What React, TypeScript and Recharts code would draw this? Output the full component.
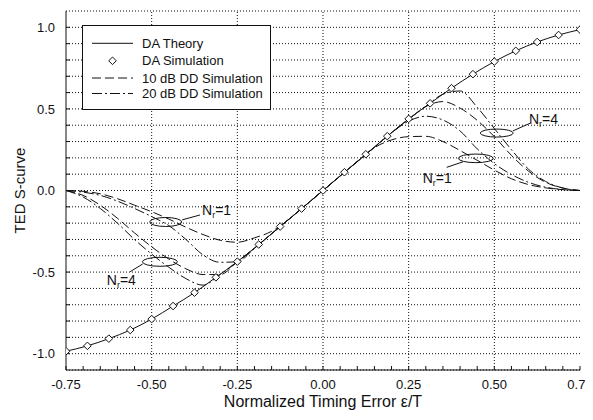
import React from "react";
import {
  ComposedChart,
  Line,
  XAxis,
  YAxis,
  CartesianGrid,
  ReferenceLine,
  ReferenceDot,
  Legend,
  Label,
} from "recharts";

// ---- tick labels ----
const xMinorTicks = [
  -0.75, -0.7, -0.65, -0.6, -0.55, -0.5, -0.45, -0.4, -0.35, -0.3, -0.25, -0.2,
  -0.15, -0.1, -0.05, 0, 0.05, 0.1, 0.15, 0.2, 0.25, 0.3, 0.35, 0.4, 0.45, 0.5,
  0.55, 0.6, 0.65, 0.7, 0.75,
];
const xMajorTicks = [-0.75, -0.5, -0.25, 0, 0.25, 0.5, 0.75];
const xGridValues = [-0.5, -0.25, 0, 0.25, 0.5];
const yMinorTicks = [
  -1.0, -0.9, -0.8, -0.7, -0.6, -0.5, -0.4, -0.3, -0.2, -0.1, 0, 0.1, 0.2, 0.3,
  0.4, 0.5, 0.6, 0.7, 0.8, 0.9, 1.0,
];
const yMajorTicks = [-1.0, -0.5, 0, 0.5, 1.0];

// ---- DA theory / simulation ----
const daX = [
  -0.75, -0.6875, -0.625, -0.5625, -0.5, -0.4375, -0.375, -0.3125, -0.25,
  -0.1875, -0.125, -0.0625, 0, 0.0625, 0.125, 0.1875, 0.25, 0.3125, 0.375,
  0.4375, 0.5, 0.5625, 0.625, 0.6875, 0.75,
];
const daTheory = [
  -0.985, -0.952, -0.908, -0.855, -0.788, -0.708, -0.626, -0.532, -0.436,
  -0.331, -0.221, -0.111, 0, 0.112, 0.222, 0.333, 0.439, 0.534, 0.627, 0.713,
  0.79, 0.856, 0.91, 0.953, 0.986,
];
const daSimulation = [
  -0.985, -0.952, -0.908, -0.855, -0.788, -0.708, -0.626, -0.532, -0.436,
  -0.331, -0.221, -0.111, 0, 0.112, 0.222, 0.333, 0.439, 0.534, 0.627, 0.713,
  0.79, 0.856, 0.91, 0.953, 0.986,
];

// ---- DD simulations ----
const ddX = xMinorTicks;
const dd10Nr1 = [
  0, -0.005, -0.02, -0.05, -0.09, -0.13, -0.175, -0.225, -0.27, -0.305, -0.317,
  -0.29, -0.25, -0.177, -0.089, 0, 0.089, 0.177, 0.262, 0.31, 0.33, 0.332, 0.3,
  0.245, 0.185, 0.125, 0.072, 0.036, 0.016, 0.005, 0,
];
const dd20Nr1 = [
  0, -0.01, -0.03, -0.065, -0.11, -0.16, -0.215, -0.3, -0.395, -0.44, -0.437,
  -0.354, -0.265, -0.177, -0.089, 0, 0.089, 0.177, 0.265, 0.354, 0.425, 0.455,
  0.432, 0.365, 0.255, 0.165, 0.098, 0.05, 0.02, 0.006, 0,
];
const dd10Nr4 = [
  0, -0.03, -0.09, -0.17, -0.26, -0.345, -0.42, -0.48, -0.515, -0.515, -0.437,
  -0.354, -0.265, -0.177, -0.089, 0, 0.089, 0.177, 0.265, 0.354, 0.437, 0.515,
  0.545, 0.505, 0.43, 0.33, 0.215, 0.118, 0.05, 0.015, 0,
];
const dd20Nr4 = [
  0, -0.04, -0.11, -0.2, -0.3, -0.39, -0.47, -0.54, -0.58, -0.515, -0.437,
  -0.354, -0.265, -0.177, -0.089, 0, 0.089, 0.177, 0.265, 0.354, 0.437, 0.515,
  0.59, 0.61, 0.51, 0.38, 0.25, 0.13, 0.055, 0.015, 0,
];

// ---- annotations (data coordinates) ----
const ellipses = [
  { x: -0.459, y: -0.193, rx: 16, ry: 4.5 },
  { x: -0.476, y: -0.437, rx: 17.5, ry: 4.5 },
  { x: 0.507, y: 0.352, rx: 16.5, ry: 4 },
  { x: 0.446, y: 0.197, rx: 17.5, ry: 4.3 },
];
const leaders = [
  [{ x: -0.411, y: -0.18 }, { x: -0.359, y: -0.15 }],
  [{ x: -0.526, y: -0.45 }, { x: -0.563, y: -0.498 }],
  [{ x: 0.554, y: 0.365 }, { x: 0.604, y: 0.412 }],
  [{ x: 0.409, y: 0.176 }, { x: 0.361, y: 0.142 }],
];
const nrLabels = [
  { x: -0.353, y: -0.15, n: "1" },
  { x: -0.631, y: -0.579, n: "4" },
  { x: 0.601, y: 0.406, n: "4" },
  { x: 0.291, y: 0.048, n: "1" },
];

const toPts = (xs: number[], ys: number[]) => xs.map((x, i) => ({ x, y: ys[i] }));

const FONT = "'Liberation Sans', Arial, Helvetica, sans-serif";
const INK = "#111";

const Diamond = (props: any) => {
  const { cx, cy, index } = props;
  if (cx == null || cy == null) return <g key={index} />;
  const s = 3.8;
  return (
    <path
      key={index}
      d={`M${cx},${cy - s}L${cx + s},${cy}L${cx},${cy + s}L${cx - s},${cy}Z`}
      fill="#fff"
      stroke={INK}
      strokeWidth={1}
    />
  );
};

const LegendBox = () => {
  const rows = [
    { label: "DA Theory", type: "solid" },
    { label: "DA Simulation", type: "diamond" },
    { label: "10 dB DD Simulation", type: "dash" },
    { label: "20 dB DD Simulation", type: "dashdot" },
  ];
  const rowY = [18.3, 35.8, 53, 68.5];
  return (
    <svg width={189} height={85} style={{ display: "block" }}>
      <rect x={0.5} y={0.5} width={188} height={84} fill="#fff" stroke={INK} />
      {rows.map((r, i) => {
        const y = rowY[i];
        let sample: React.ReactNode = null;
        if (r.type === "solid")
          sample = <line x1={10} x2={51} y1={y} y2={y} stroke={INK} />;
        if (r.type === "dash")
          sample = (
            <line x1={10} x2={51} y1={y} y2={y} stroke={INK} strokeDasharray="9 4" />
          );
        if (r.type === "dashdot")
          sample = (
            <line x1={10} x2={51} y1={y} y2={y} stroke={INK} strokeDasharray="10 3 2 3" />
          );
        if (r.type === "diamond") sample = <Diamond cx={30.5} cy={y} index={i} />;
        return (
          <g key={r.label}>
            {sample}
            <text x={60} y={y + 4.6} fontSize={13} fontFamily={FONT} fill={INK}>
              {r.label}
            </text>
          </g>
        );
      })}
    </svg>
  );
};

const NrText = ({ cx, cy, n }: any) => (
  <text x={cx} y={cy} fontSize={14} fontFamily={FONT} fill={INK}>
    <tspan>N</tspan>
    <tspan fontSize={9} dy={3}>r</tspan>
    <tspan fontSize={14} dy={-3}>={n}</tspan>
  </text>
);

export default function App() {
  const lineCommon = {
    dataKey: "y",
    dot: false,
    activeDot: false,
    isAnimationActive: false,
    stroke: INK,
    strokeWidth: 1,
    type: "monotone" as const,
    legendType: "none" as const,
  };
  return (
    <div style={{ width: 585, height: 412 }}>
      <style>{`.recharts-surface{overflow:visible}`}</style>
      <ComposedChart
        width={585}
        height={412}
        margin={{ top: 3, right: 13, bottom: 0, left: 0 }}
        style={{ fontFamily: FONT }}
      >
        <CartesianGrid
          vertical={false}
          stroke={INK}
          strokeDasharray="1 2"
          strokeWidth={1}
        />
        <XAxis
          dataKey="x"
          type="number"
          domain={[-0.75, 0.75]}
          allowDataOverflow
          ticks={xMinorTicks}
          interval={0}
          tickSize={-4}
          tickMargin={14}
          height={50}
          stroke={INK}
          tick={{ fill: INK, fontSize: 13, fontFamily: FONT }}
          tickFormatter={(v: number) => (xMajorTicks.includes(v) ? v.toFixed(2) : "")}
        >
          <Label
            content={({ viewBox }: any) => (
              <text
                x={viewBox.x + viewBox.width / 2}
                y={viewBox.y + 37}
                textAnchor="middle"
                fontSize={16}
                fontFamily={FONT}
                fill={INK}
              >
                Normalized Timing Error ε/T
              </text>
            )}
          />
        </XAxis>
        <XAxis
          xAxisId="top"
          orientation="top"
          dataKey="x"
          type="number"
          domain={[-0.75, 0.75]}
          allowDataOverflow
          ticks={xMinorTicks}
          interval={0}
          tickSize={-4}
          height={0}
          stroke={INK}
          tick={false}
        />
        <YAxis
          type="number"
          domain={[-1.1, 1.1]}
          allowDataOverflow
          ticks={yMinorTicks}
          interval={0}
          tickSize={-4}
          tickMargin={15}
          width={58}
          stroke={INK}
          tick={{ fill: INK, fontSize: 13, fontFamily: FONT }}
          tickFormatter={(v: number) => (yMajorTicks.includes(v) ? v.toFixed(1) : "")}
        >
          <Label
            content={({ viewBox }: any) => {
              const cx = 11;
              const cy = viewBox.y + viewBox.height / 2;
              return (
                <text
                  x={cx}
                  y={cy}
                  transform={`rotate(-90 ${cx} ${cy})`}
                  textAnchor="middle"
                  dominantBaseline="central"
                  fontSize={15}
                  fontFamily={FONT}
                  fill={INK}
                >
                  TED S-curve
                </text>
              );
            }}
          />
        </YAxis>
        <YAxis
          yAxisId="right"
          orientation="right"
          type="number"
          domain={[-1.1, 1.1]}
          allowDataOverflow
          ticks={yMinorTicks}
          interval={0}
          tickSize={-4}
          width={0}
          stroke={INK}
          tick={false}
        />
        {xGridValues.map((v) => (
          <ReferenceLine
            key={`vg${v}`}
            x={v}
            stroke={INK}
            strokeDasharray="1 2"
            strokeWidth={1}
          />
        ))}
        <Legend
          layout="vertical"
          align="center"
          verticalAlign="middle"
          wrapperStyle={{ left: 74, top: 17, width: 189, height: 85 }}
          content={() => <LegendBox />}
        />
        <Line {...lineCommon} data={toPts(ddX, dd10Nr1)} strokeDasharray="9 4" name="10 dB Nr=1" />
        <Line {...lineCommon} data={toPts(ddX, dd10Nr4)} strokeDasharray="9 4" name="10 dB Nr=4" />
        <Line {...lineCommon} data={toPts(ddX, dd20Nr1)} strokeDasharray="10 3 2 3" name="20 dB Nr=1" />
        <Line {...lineCommon} data={toPts(ddX, dd20Nr4)} strokeDasharray="10 3 2 3" name="20 dB Nr=4" />
        <Line {...lineCommon} data={toPts(daX, daTheory)} name="DA Theory" />
        <Line
          {...lineCommon}
          data={toPts(daX, daSimulation)}
          stroke="none"
          dot={(p: any) => <Diamond {...p} key={p.index} />}
          name="DA Simulation"
        />
        {ellipses.map((e, i) => (
          <ReferenceDot
            key={`el${i}`}
            x={e.x}
            y={e.y}
            r={1}
            shape={(p: any) => (
              <ellipse
                cx={p.cx}
                cy={p.cy}
                rx={e.rx}
                ry={e.ry}
                fill="none"
                stroke={INK}
                strokeWidth={1}
              />
            )}
          />
        ))}
        {leaders.map((seg, i) => (
          <ReferenceLine key={`ld${i}`} segment={seg} stroke={INK} strokeWidth={1} />
        ))}
        {nrLabels.map((l, i) => (
          <ReferenceDot
            key={`nr${i}`}
            x={l.x}
            y={l.y}
            r={1}
            shape={(p: any) => <NrText cx={p.cx} cy={p.cy} n={l.n} />}
          />
        ))}
      </ComposedChart>
    </div>
  );
}
